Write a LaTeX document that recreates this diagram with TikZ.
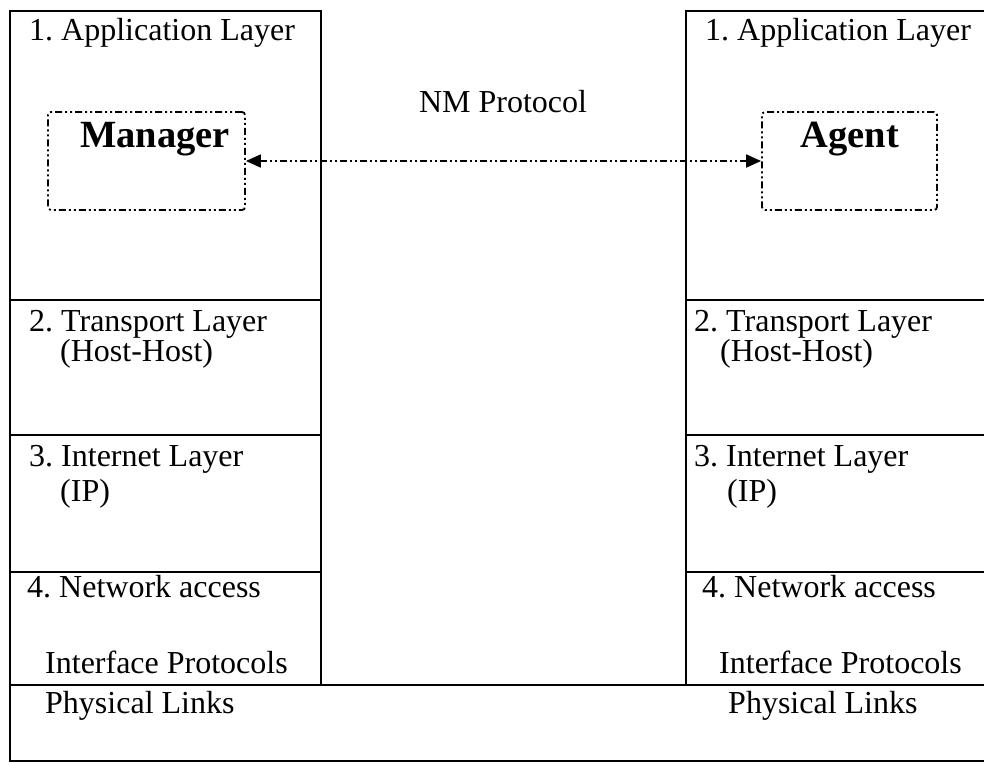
\documentclass[tikz,border=0pt]{standalone}
\usepackage{fontspec}
\setmainfont{Liberation Serif}
\usetikzlibrary{arrows.meta}
\tikzset{
  frame/.style={line width=2pt, line cap=rect},
  lbl/.style={anchor=base west, inner sep=0pt, font=\fontsize{32}{36}\selectfont},
  ctr/.style={anchor=base, inner sep=0pt, font=\fontsize{32}{36}\selectfont},
  big/.style={anchor=base, inner sep=0pt, font=\fontsize{38.5}{42}\selectfont\bfseries},
  ddot/.style={line width=1.8pt, dash pattern=on 7pt off 3pt on 2pt off 3pt on 2pt off 3pt},
  rolebox/.style={draw, ddot, rounded corners=3pt, inner sep=0pt},
  nm/.style={ddot, {Triangle[length=15pt,width=13pt]}-{Triangle[length=15pt,width=13pt]}}
}
\begin{document}
\begin{tikzpicture}[x=1pt,y=-1pt]
\useasboundingbox (0,0) rectangle (984,763);
% left stack
\draw[frame] (10,11) rectangle (321,685);
\draw[frame] (10,300) -- (321,300);
\draw[frame] (10,435) -- (321,435);
\draw[frame] (10,572) -- (321,572);
% right stack
\draw[frame] (1000,11) -- (686,11) -- (686,685);
\draw[frame] (686,300) -- (1000,300);
\draw[frame] (686,435) -- (1000,435);
\draw[frame] (686,572) -- (1000,572);
% bottom physical box
\draw[frame] (1000,685) -- (10,685) -- (10,761) -- (1000,761);
% left labels
\node[lbl] (la1) at (29,40) {1.\ Application Layer};
\node[lbl] (la2) at (29,331) {2.\ Transport Layer};
\node[lbl] (la2b) at (60,361) {(Host-Host)};
\node[lbl] (la3) at (29,466) {3.\ Internet Layer};
\node[lbl] (la3b) at (60,501) {(IP)};
\node[lbl] (la4) at (27,597) {4.\ Network access};
\node[lbl] (la4b) at (45,673) {Interface Protocols};
\node[lbl] (la5) at (45,713) {Physical Links};
% right labels
\node[lbl] (ra1) at (705,40) {1.\ Application Layer};
\node[lbl] (ra2) at (694,331) {2.\ Transport Layer};
\node[lbl] (ra2b) at (720,361) {(Host-Host)};
\node[lbl] (ra3) at (694,466) {3.\ Internet Layer};
\node[lbl] (ra3b) at (727,501) {(IP)};
\node[lbl] (ra4) at (702,597) {4.\ Network access};
\node[lbl] (ra4b) at (719,673) {Interface Protocols};
\node[lbl] (ra5) at (728,713) {Physical Links};
% manager / agent
\node[rolebox, minimum width=197pt, minimum height=98pt] (mgr) at (146.5,161) {};
\node[big] (mgrt) at (155,147) {Manager};
\node[rolebox, minimum width=175pt, minimum height=98pt] (agt) at (849.5,161) {};
\node[big] (agtt) at (850,147) {Agent};
% protocol
\node[ctr] (nmp) at (503,112) {NM Protocol};
\draw[nm] (mgr.east) -- (agt.west);
\end{tikzpicture}
\end{document}
